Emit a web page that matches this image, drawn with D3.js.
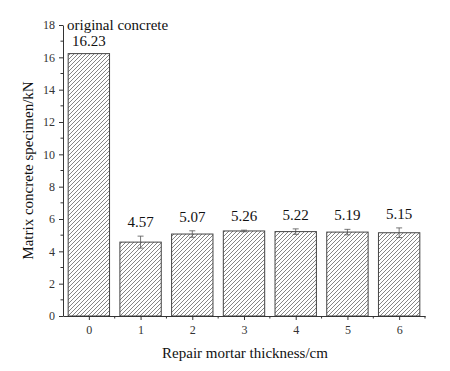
<!DOCTYPE html>
<html>
<head>
<meta charset="utf-8">
<script src="https://cdn.jsdelivr.net/npm/d3@7"></script>
<style>
body { margin: 0; background: #fff; }
text { font-family: "Liberation Serif", "Times New Roman", serif; }
</style>
</head>
<body>
<svg id="chart"></svg>
<script>
const width = 450;
const height = 371;

const categories = [0, 1, 2, 3, 4, 5, 6];
const values = [16.23, 4.57, 5.07, 5.26, 5.22, 5.19, 5.15];
const errors = [0, 0.37, 0.2, 0.05, 0.17, 0.17, 0.3];
const labels = ["16.23", "4.57", "5.07", "5.26", "5.22", "5.19", "5.15"];
const yTicks = [0, 2, 4, 6, 8, 10, 12, 14, 16, 18];
const yMinor = [1, 3, 5, 7, 9, 11, 13, 15, 17];

const svg = d3.select('#chart').attr('width', width).attr('height', height);

// hatch for bars
const defs = svg.append('defs');
const pat = defs.append('pattern')
    .attr('id', 'hatch')
    .attr('patternUnits', 'userSpaceOnUse')
    .attr('width', 4).attr('height', 4);
pat.append('rect').attr('width', 4).attr('height', 4).attr('fill', '#fff');
pat.append('path')
    .attr('d', 'M-1,1 l2,-2 M0,4 l4,-4 M3,5 l2,-2')
    .attr('stroke', '#666').attr('stroke-width', 0.8);

var xScale = d3.scaleLinear()
    .domain([-0.5, 6.5])
    .range([63, 425]);

var yScale = d3.scaleLinear()
    .domain([0, 18])
    .range([316, 25]);

const bw = 0.8;
const axisColor = '#333';

// bars
svg.selectAll('.bar')
    .data(values)
    .enter().append('rect')
    .attr('class', 'bar')
    .attr('x', (d, i) => xScale(categories[i] - bw / 2))
    .attr('width', xScale(bw) - xScale(0))
    .attr('y', d => yScale(d))
    .attr('height', d => yScale(0) - yScale(d))
    .attr('fill', 'url(#hatch)')
    .attr('stroke', '#444')
    .attr('stroke-width', 1);

// error bars
const eg = svg.append('g').attr('stroke', '#555').attr('stroke-width', 0.8);
values.forEach((v, i) => {
    if (errors[i] <= 0) return;
    const cx = xScale(categories[i]);
    eg.append('line').attr('x1', cx).attr('x2', cx)
        .attr('y1', yScale(v - errors[i])).attr('y2', yScale(v + errors[i]));
    eg.append('line').attr('x1', cx - 3).attr('x2', cx + 3)
        .attr('y1', yScale(v + errors[i])).attr('y2', yScale(v + errors[i]));
    eg.append('line').attr('x1', cx - 3).attr('x2', cx + 3)
        .attr('y1', yScale(v - errors[i])).attr('y2', yScale(v - errors[i]));
});

// value labels
svg.selectAll('.vlabel')
    .data(values)
    .enter().append('text')
    .attr('class', 'vlabel')
    .attr('x', (d, i) => xScale(categories[i]))
    .attr('y', (d, i) => yScale(d + errors[i]) - (i == 0 ? 8 : 9))
    .attr('text-anchor', 'middle')
    .attr('font-size', 15)
    .attr('fill', '#111')
    .text((d, i) => labels[i]);

// y axis
const gY = svg.append('g').attr('transform', 'translate(63,0)');
gY.call(d3.axisLeft(yScale).tickValues(yTicks).tickSize(4).tickSizeOuter(0).tickPadding(4));
gY.selectAll('.tick text').attr('font-size', 12).attr('fill', axisColor)
    .style('font-family', '"Liberation Serif", serif');
gY.selectAll('line, path').attr('stroke', axisColor);
gY.selectAll('.minor')
    .data(yMinor)
    .enter().append('line')
    .attr('class', 'minor')
    .attr('x1', 0).attr('x2', -2.5)
    .attr('y1', d => yScale(d)).attr('y2', d => yScale(d))
    .attr('stroke', axisColor);

// x axis
const gX = svg.append('g').attr('transform', 'translate(0,316)');
gX.call(d3.axisBottom(xScale).tickValues(categories).tickFormat(d3.format('d')).tickSize(4).tickSizeOuter(0).tickPadding(5));
gX.selectAll('.tick text').attr('font-size', 12).attr('fill', axisColor)
    .style('font-family', '"Liberation Serif", serif');
gX.selectAll('line, path').attr('stroke', axisColor);
gX.selectAll('.minor')
    .data(categories.map(c => c + 0.5))
    .enter().append('line')
    .attr('class', 'minor')
    .attr('x1', d => xScale(d)).attr('x2', d => xScale(d))
    .attr('y1', 0).attr('y2', 2.5)
    .attr('stroke', axisColor);

// annotations and titles
svg.append('text')
    .attr('x', 67).attr('y', 30)
    .attr('font-size', 15).attr('fill', '#111')
    .text('original concrete');

svg.append('text')
    .attr('x', 245).attr('y', 358)
    .attr('text-anchor', 'middle')
    .attr('font-size', 15).attr('fill', '#111')
    .text('Repair mortar thickness/cm');

svg.append('text')
    .attr('transform', 'translate(33,' + ((25 + 316) / 2) + ') rotate(-90)')
    .attr('text-anchor', 'middle')
    .attr('font-size', 15).attr('fill', '#111')
    .text('Matrix concrete specimen/kN');
</script>
</body>
</html>
